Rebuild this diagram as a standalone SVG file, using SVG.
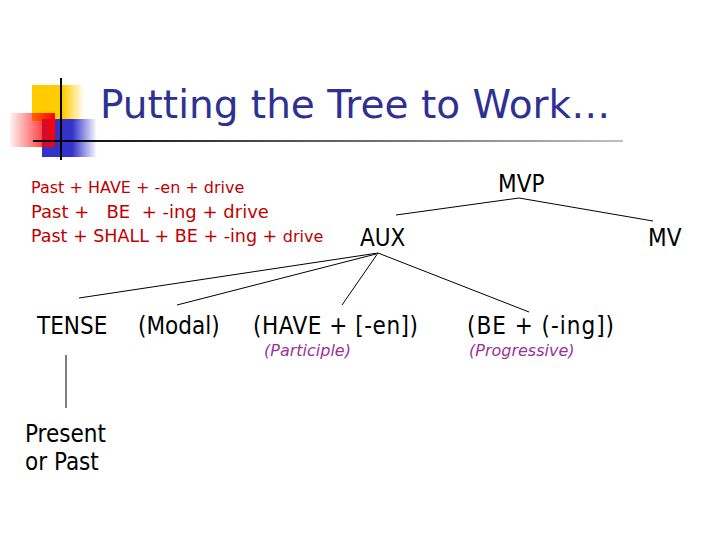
<svg xmlns="http://www.w3.org/2000/svg" width="720" height="540" viewBox="0 0 720 540">
<defs>
<linearGradient id="gy" x1="0" y1="0" x2="1" y2="0"><stop offset="0" stop-color="#FFCC00"/><stop offset="0.6" stop-color="#FFCC00"/><stop offset="1" stop-color="#FFCC00" stop-opacity="0"/></linearGradient>
<linearGradient id="gb" x1="0" y1="0" x2="1" y2="0"><stop offset="0" stop-color="#3333CC"/><stop offset="0.55" stop-color="#3333CC"/><stop offset="1" stop-color="#3333CC" stop-opacity="0"/></linearGradient>
<linearGradient id="gr" x1="0" y1="0" x2="1" y2="0"><stop offset="0" stop-color="#FF0000" stop-opacity="0.05"/><stop offset="1" stop-color="#FF0000"/></linearGradient>
<linearGradient id="gl" x1="0" y1="0" x2="1" y2="0"><stop offset="0" stop-color="#000"/><stop offset="1" stop-color="#000" stop-opacity="0.25"/></linearGradient>
<style>
.t{font-family:"DejaVu Sans Condensed","DejaVu Sans",sans-serif;font-size:24px;fill:#000}
.r{font-family:"DejaVu Sans",sans-serif;fill:#C00000}
.p{font-family:"DejaVu Sans",sans-serif;font-size:16px;font-style:italic;fill:#993399}
.ln{stroke:#000;stroke-width:1;fill:none}
</style>
</defs>
<g id="logo">
<rect x="32" y="85" width="52" height="36" fill="url(#gy)"/>
<rect x="42" y="119" width="55" height="38" fill="url(#gb)"/>
<rect x="10" y="113" width="45" height="34" fill="url(#gr)"/>
<line x1="61" y1="78" x2="61" y2="160" stroke="#000" stroke-width="2"/>
<rect x="33" y="140" width="590" height="2" fill="url(#gl)"/>
</g>
<g id="title"><text x="100" y="118" font-family="DejaVu Sans, sans-serif" font-size="39" fill="#2E3192">Putting the Tree to Work…</text></g>
<g id="derivations">
<text class="r" x="31" y="193" font-size="16">Past + HAVE + -en + drive</text>
<text class="r" x="31" y="218" font-size="18" xml:space="preserve">Past +   BE  + -ing + drive</text>
<text class="r" x="31" y="242" font-size="17.5">Past + SHALL + BE + -ing + <tspan font-size="16">drive</tspan></text>
</g>
<g id="connectors">
<polyline class="ln" points="396,215 519,198 653,221"/>
<line class="ln" x1="378" y1="253" x2="79" y2="298"/>
<line class="ln" x1="376" y1="254" x2="177" y2="305"/>
<line class="ln" x1="378" y1="253" x2="342" y2="305"/>
<line class="ln" x1="378" y1="253" x2="529" y2="312"/>
<line class="ln" x1="66" y1="355" x2="66" y2="408"/>
</g>
<g id="MVP"><text class="t" x="498" y="192">MVP</text></g>
<g id="AUX"><text class="t" x="360" y="246">AUX</text></g>
<g id="MV"><text class="t" x="648" y="246">MV</text></g>
<g id="TENSE"><text class="t" x="37" y="334">TENSE</text></g>
<g id="Modal"><text class="t" x="138" y="334">(Modal)</text></g>
<g id="HAVE"><text class="t" x="253" y="334" textLength="165">(HAVE + [-en])</text><text class="p" x="264" y="356">(Participle)</text></g>
<g id="BE"><text class="t" x="467" y="334" textLength="147">(BE + (-ing])</text><text class="p" x="469" y="356">(Progressive)</text></g>
<g id="Present"><text class="t" x="25" y="442">Present</text><text class="t" x="25" y="470">or Past</text></g>
</svg>
